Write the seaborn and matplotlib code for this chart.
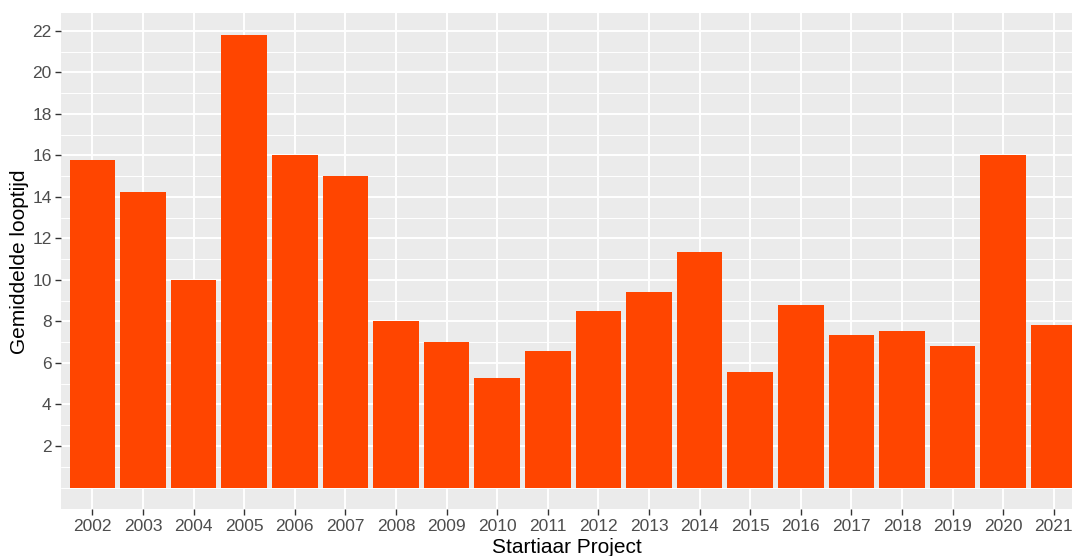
"""Bar chart of mean project duration per start year."""

import pandas as pd
import matplotlib
matplotlib.use("Agg")
import matplotlib.pyplot as plt
import seaborn as sns


years = ['2002', '2003', '2004', '2005', '2006', '2007', '2008', '2009', '2010',
         '2011', '2012', '2013', '2014', '2015', '2016', '2017', '2018', '2019',
         '2020', '2021']
mean_duration = [15.78, 14.24, 10.0, 21.79, 16.02, 15.01, 8.02, 7.01, 5.29,
                 6.56, 8.49, 9.41, 11.33, 5.58, 8.78, 7.36, 7.53, 6.80,
                 16.02, 7.82]
y_breaks = list(range(2, 23, 2))


def make_bar_plot(data: pd.DataFrame) -> None:
    """Make ggplot-looking seaborn bar plot of the mean duration."""
    sns.set_theme(style="darkgrid", rc={
        'axes.facecolor': '#EBEBEB',
        'grid.color': 'white',
    })
    plt.rcParams['font.family'] = ['Liberation Sans', 'DejaVu Sans']

    fig, ax = plt.subplots(figsize=(10.72, 5.56), dpi=100)
    fig.subplots_adjust(left=61.3 / 1072, right=1.0,
                        top=1 - 13.3 / 556, bottom=1 - 509.3 / 556)

    sns.barplot(data=data, x='startjaar', y='looptijd', color='#FF4500',
                saturation=1, width=0.9, linewidth=0, ax=ax, zorder=3)

    ax.set_xlim(-0.615, 19.36)
    ax.set_ylim(-1.05, 22.85)
    ax.set_yticks(y_breaks)
    ax.set_yticks(range(0, 23, 1), minor=True)

    ax.grid(which='major', color='white', linewidth=1.4, zorder=0)
    ax.grid(which='minor', axis='y', color='white', linewidth=0.7, zorder=0)
    ax.set_axisbelow(True)
    for s in ax.spines.values():
        s.set_visible(False)

    ax.tick_params(axis='both', which='major', length=4, width=1,
                   color='#333333', labelcolor='#4D4D4D', labelsize=12.5,
                   bottom=True, left=True, pad=3)
    ax.tick_params(axis='both', which='minor', length=0)

    ax.set_xlabel('Startiaar Project', fontsize=15, color='black', labelpad=3)
    ax.set_ylabel('Gemiddelde looptijd', fontsize=15, color='black', labelpad=2)

    plt.savefig("out.png", dpi=100)


df = pd.DataFrame({'startjaar': years, 'looptijd': mean_duration})
make_bar_plot(df)
